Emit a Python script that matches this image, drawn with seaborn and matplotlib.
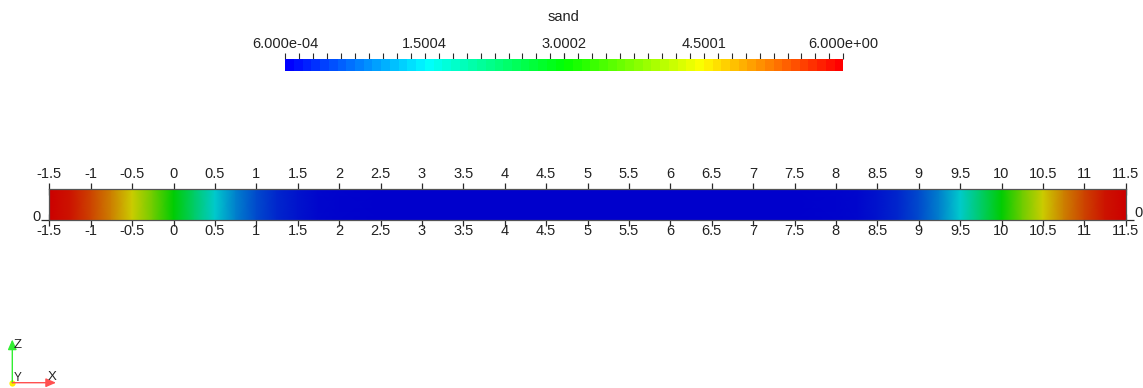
import numpy as np
import matplotlib
matplotlib.use("Agg")
import matplotlib.pyplot as plt
import matplotlib.transforms as mtransforms
import seaborn as sns
from matplotlib.colors import ListedColormap, LinearSegmentedColormap, Normalize
from matplotlib.cm import ScalarMappable

# ---------------- data ----------------
field_name = "sand"
x_positions = [-1.5, -1.25, -1.0, -0.75, -0.5, -0.25, 0.0, 0.25, 0.5, 0.75, 1.0,
               1.25, 1.5, 1.75, 2.0, 2.5, 3.0, 4.0, 5.0, 6.0, 7.0, 7.5, 8.0,
               8.25, 8.5, 8.75, 9.0, 9.25, 9.5, 9.75, 10.0, 10.25, 10.5, 10.75,
               11.0, 11.25, 11.5]
sand_values = [6.0, 5.85, 5.5, 5.05, 4.5, 3.8, 3.0, 2.25, 1.5, 0.95, 0.55,
               0.3, 0.15, 0.07, 0.03, 0.005, 0.0006, 0.0006, 0.0006, 0.0006,
               0.0006, 0.005, 0.03, 0.07, 0.15, 0.3, 0.55, 0.95, 1.5, 2.25,
               3.0, 3.8, 4.5, 5.05, 5.5, 5.85, 6.0]
x_tick_labels = ["-1.5", "-1", "-0.5", "0", "0.5", "1", "1.5", "2", "2.5", "3",
                 "3.5", "4", "4.5", "5", "5.5", "6", "6.5", "7", "7.5", "8",
                 "8.5", "9", "9.5", "10", "10.5", "11", "11.5"]
z_tick_labels = ["0"]
cbar_ticks = [0.0006, 1.5004, 3.0002, 4.5001, 6.0]
cbar_tick_labels = ["6.000e-04", "1.5004", "3.0002", "4.5001", "6.000e+00"]
vmin, vmax = 0.0006, 6.0

# ---------------- style ----------------
sns.set_theme(style="white")
plt.rcParams["font.family"] = ["Liberation Sans", "DejaVu Sans"]
plt.rcParams["axes.facecolor"] = "white"

W, H = 1143, 388
fig = plt.figure(figsize=(W / 100, H / 100), dpi=100)
fig.patch.set_facecolor("white")

rainbow = ["#0000ff", "#00ffff", "#00ff00", "#ffff00", "#ff0000"]
bar_cmap = ListedColormap(sns.blend_palette(rainbow, n_colors=64))
shade = 0.8
shaded = [tuple(c * shade for c in col) for col in sns.blend_palette(rainbow, n_colors=256)]
strip_cmap = LinearSegmentedColormap.from_list("shaded", shaded)
norm = Normalize(vmin=vmin, vmax=vmax)

txt_color = "#222222"
tick_color = "#2a2a2a"

# ---------------- strip ----------------
ax = fig.add_axes([49.3 / W, (H - 219.5) / H, 1076.4 / W, 30.5 / H])
xp = np.asarray(x_positions, dtype=float)
X = np.vstack([xp, xp])
Y = np.vstack([np.zeros_like(xp), np.ones_like(xp)])
C = np.vstack([sand_values, sand_values])
ax.pcolormesh(X, Y, C, shading="gouraud", cmap=strip_cmap, norm=norm)
ax.set_xlim(-1.5, 11.5)
ax.set_ylim(0, 1)
tick_pos = [float(t) for t in x_tick_labels]
ax.set_xticks(tick_pos)
ax.set_xticklabels(x_tick_labels)
ax.tick_params(axis="x", which="major", bottom=True, top=False, labelbottom=True,
               direction="inout", length=9, width=0.9, color=tick_color,
               labelsize=10.5, labelcolor=txt_color, pad=-1.2)
ax.set_yticks([float(z) for z in z_tick_labels])
ax.set_yticklabels(z_tick_labels)
ax.tick_params(axis="y", left=True, right=True, labelleft=True, labelright=True,
               direction="out", length=5.5, width=0.9, color=tick_color,
               labelsize=10.5, labelcolor=txt_color, pad=0.5)
shift_up = mtransforms.ScaledTranslation(0, 4 / 100, fig.dpi_scale_trans)
for lab in ax.get_yticklabels(which="both"):
    lab.set_transform(lab.get_transform() + shift_up)
for tk in ax.yaxis.get_major_ticks():
    tk.label2.set_transform(tk.label2.get_transform() + shift_up)
for s in ax.spines.values():
    s.set_color("#555555")
    s.set_linewidth(0.9)
ax.grid(False)

top = ax.secondary_xaxis("top")
top.set_xticks(tick_pos)
top.set_xticklabels(x_tick_labels)
top.tick_params(axis="x", direction="inout", length=9, width=0.9, color=tick_color,
                labelsize=10.5, labelcolor=txt_color, pad=1.0)
top.spines["top"].set_visible(False)

# ---------------- colorbar ----------------
cax = fig.add_axes([285.3 / W, (H - 70.7) / H, 558 / W, 11.4 / H])
cb = fig.colorbar(ScalarMappable(norm=norm, cmap=bar_cmap), cax=cax,
                  orientation="horizontal", ticks=cbar_ticks)
cb.outline.set_visible(False)
cax.xaxis.set_ticks_position("top")
cax.xaxis.set_label_position("top")
cax.set_xticklabels(cbar_tick_labels)
cax.set_xticks(np.linspace(vmin, vmax, 41), minor=True)
cax.tick_params(axis="x", which="both", direction="out", length=4.5, width=0.8,
                color=tick_color, labelsize=10.5, labelcolor=txt_color, pad=1.5)
fig.text(564 / W, 1 - 17 / H, field_name, ha="center", va="center",
         fontsize=10.5, color=txt_color)

# ---------------- orientation triad ----------------
ov = fig.add_axes([0, 0, 1, 1], zorder=-5)
ov.set_xlim(0, W)
ov.set_ylim(H, 0)
ov.axis("off")
ov.patch.set_alpha(0)
ox, oy = 12.3, 382.7
ov.annotate("", xy=(ox, 339.5), xytext=(ox, oy),
            arrowprops=dict(arrowstyle="-|>,head_length=0.5,head_width=0.22",
                            color="#33ee33", lw=1.0, shrinkA=0, shrinkB=0))
ov.annotate("", xy=(56, oy), xytext=(ox, oy),
            arrowprops=dict(arrowstyle="-|>,head_length=0.5,head_width=0.22",
                            color="#ff5050", lw=1.0, shrinkA=0, shrinkB=0))
ov.plot([ox], [oy], marker="o", ms=4.5, color="#ffee00", mec="none")
ov.text(14, 345, "Z", fontsize=9.5, ha="left", va="center", color="#222222")
ov.text(14, 378, "Y", fontsize=8.5, ha="left", va="center", color="#222222")
ov.text(47.5, 377.5, "X", fontsize=9.5, ha="left", va="center", color="#222222")

fig.savefig("out.png", dpi=100, facecolor="white")
